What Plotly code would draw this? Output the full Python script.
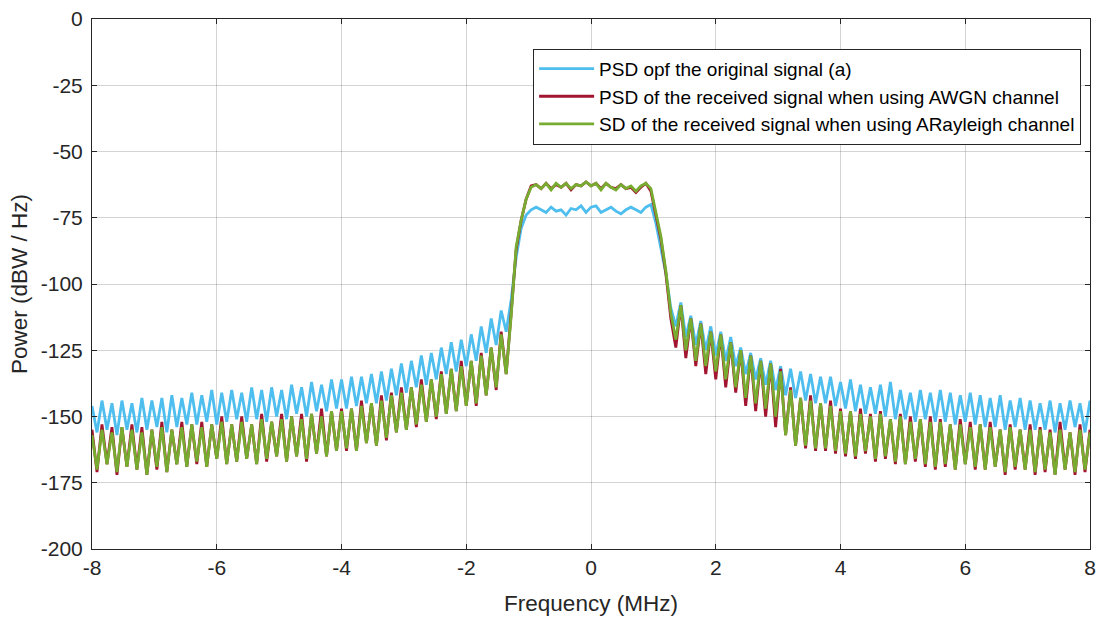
import numpy as np
import plotly.graph_objects as go

# Frequency grid (MHz), 0.08 MHz spacing
freq = np.round(np.arange(-8.0, 8.0001, 0.08), 2)

# PSD of the original signal (dBW/Hz)
psd_original = [
    -146, -156, -144, -155, -145, -157, -144, -155, -145, -156,
    -143, -155, -144, -154, -143, -156, -142, -154, -143, -153,
    -141, -153, -142, -152, -140, -153, -141, -152, -140, -151,
    -141, -152, -139, -151, -140, -152, -139, -150, -140, -151,
    -138, -149, -139, -150, -137, -148, -138, -148, -136, -147,
    -136, -147, -135, -146, -135, -145, -134, -145, -133, -144,
    -132, -142, -130, -141, -129, -139, -127, -138, -126, -136,
    -124, -134, -122, -133, -121, -131, -119, -129, -116, -126,
    -113, -123, -110, -118, -106, -90, -79, -74, -72, -71,
    -72, -73, -71, -72.5, -72, -74, -71.5, -72, -70.5, -73,
    -71, -70.5, -73, -72, -71, -72.5, -73.5, -72, -71, -72,
    -73, -71, -70, -77, -86, -96, -109, -116, -107, -120,
    -112, -123, -114, -125, -116, -127, -118, -129, -120, -131,
    -124, -134, -126, -136, -128, -138, -129, -140, -131, -142,
    -132, -143, -133, -144, -134, -145, -135, -145, -135, -146,
    -137, -147, -136, -148, -138, -149, -139, -149, -138, -150,
    -137, -151, -140, -151, -141, -152, -140, -151, -141, -152,
    -140, -152, -141, -153, -142, -152, -141, -153, -142, -154,
    -143, -154, -142, -155, -144, -154, -143, -155, -144, -155,
    -145, -155, -144, -156, -145, -155, -144, -154, -145, -156,
    -144,
]

# PSD of the received signal, AWGN channel (dBW/Hz)
psd_awgn = [
    -155, -171, -153, -168, -154, -172, -154, -169, -153, -170,
    -154, -172, -155, -170, -152, -171, -155, -168, -152, -169,
    -153, -168, -152, -169, -153, -166, -150, -168, -153, -167,
    -150, -166, -153, -168, -149, -167, -152, -165, -149, -167,
    -150, -165, -149, -167, -149, -164, -147, -165, -148, -163,
    -147, -163, -147, -163, -144, -160, -145, -161, -142, -159,
    -141, -156, -139, -155, -139, -154, -136, -152, -136, -151,
    -133, -149, -132, -148, -129, -146, -129, -146, -126, -142,
    -124, -140, -118, -134, -111, -87, -76, -68, -63, -62.5,
    -64, -62, -64, -62.5, -63.5, -62, -64.5, -62.5, -63, -61.5,
    -63, -62, -64, -62, -63.5, -64, -62.5, -64, -63.5, -65.5,
    -63.5, -62, -65, -74, -83, -96, -113, -124, -108, -128,
    -113, -131, -115, -134, -118, -136, -119, -139, -122, -141,
    -125, -146, -127, -148, -129, -150, -130, -154, -132, -157,
    -139, -161, -143, -162, -142, -163, -145, -163, -144, -164,
    -147, -165, -148, -166, -147, -164, -149, -167, -148, -166,
    -151, -168, -149, -168, -150, -167, -151, -169, -150, -170,
    -151, -169, -153, -170, -151, -168, -152, -170, -153, -170,
    -152, -169, -155, -172, -153, -170, -155, -170, -153, -172,
    -154, -171, -155, -172, -152, -170, -156, -172, -153, -171,
    -155,
]

# PSD of the received signal, Rayleigh channel (dBW/Hz)
psd_rayleigh = [
    -157, -170, -155, -168, -156, -171, -154, -169, -155, -170,
    -156, -172, -155, -169, -154, -171, -155, -168, -154, -169,
    -153, -167, -154, -169, -153, -166, -152, -168, -153, -167,
    -152, -166, -153, -168, -151, -166, -152, -165, -151, -167,
    -150, -165, -151, -166, -149, -164, -150, -165, -148, -163,
    -148, -162, -147, -163, -146, -160, -145, -161, -144, -158,
    -142, -156, -141, -155, -139, -153, -138, -152, -136, -150,
    -134, -149, -132, -148, -131, -146, -129, -145, -127, -142,
    -124, -139, -119, -134, -112, -86, -76, -68, -63.5, -62.5,
    -64, -62, -64.5, -62, -63.5, -62, -64, -62.5, -63, -61.5,
    -63, -62, -64.5, -62, -63.5, -64.5, -62.5, -64, -63, -65,
    -63, -62, -64, -73, -82, -95, -111, -121, -108, -125,
    -113, -129, -115, -131, -118, -133, -119, -136, -122, -139,
    -125, -143, -127, -145, -129, -147, -130, -150, -133, -157,
    -140, -161, -143, -161, -144, -162, -145, -162, -146, -163,
    -148, -164, -148, -165, -149, -163, -150, -166, -149, -165,
    -151, -167, -150, -168, -152, -166, -151, -168, -152, -169,
    -152, -168, -153, -170, -153, -168, -154, -169, -153, -170,
    -154, -169, -155, -171, -154, -169, -155, -170, -155, -171,
    -155, -170, -156, -172, -155, -170, -156, -171, -155, -170,
    -156,
]

series_names = [
    "PSD opf the original signal (a)",
    "PSD of the received signal when using AWGN channel",
    "SD of the received signal when using ARayleigh channel",
]
series_colors = ["#4DBEEE", "#A2142F", "#77AC30"]

x_tickvals = [-8, -6, -4, -2, 0, 2, 4, 6, 8]
x_ticktext = ["-8", "-6", "-4", "-2", "0", "2", "4", "6", "8"]
y_tickvals = [0, -25, -50, -75, -100, -125, -150, -175, -200]
y_ticktext = ["0", "-25", "-50", "-75", "-100", "-125", "-150", "-175", "-200"]

FONT = "Liberation Sans, Arial, Helvetica, sans-serif"
AX = "#262626"

fig = go.Figure()
for name, ys, col in zip(series_names, [psd_original, psd_awgn, psd_rayleigh], series_colors):
    fig.add_trace(go.Scatter(x=freq, y=ys, mode="lines", name=name,
                             line=dict(color=col, width=2.8)))

axis_common = dict(
    showline=True, linecolor=AX, linewidth=1, mirror="ticks",
    ticks="inside", ticklen=5, tickcolor=AX, tickwidth=1,
    showgrid=True, gridcolor="rgba(0,0,0,0.17)", gridwidth=1,
    zeroline=False, layer="above traces", automargin=False,
    ticklabeloverflow="allow",
    tickfont=dict(family=FONT, size=21, color=AX),
)

fig.update_layout(
    width=1100, height=621,
    margin=dict(l=92, r=10, t=19, b=72),
    paper_bgcolor="white", plot_bgcolor="white",
    font=dict(family=FONT, color=AX),
    xaxis=dict(range=[-8, 8], tickvals=x_tickvals, ticktext=x_ticktext,
               title=dict(text="Frequency (MHz)", font=dict(family=FONT, size=22.5, color=AX), standoff=17),
               **axis_common),
    yaxis=dict(range=[-200, 0], tickvals=y_tickvals, ticktext=y_ticktext,
               ticklabelstandoff=4,
               title=dict(text="Power (dBW / Hz)", font=dict(family=FONT, size=22.5, color=AX), standoff=6),
               **axis_common),
    legend=dict(x=0.442, y=0.944, xanchor="left", yanchor="top",
                bgcolor="white", bordercolor=AX, borderwidth=1,
                font=dict(family=FONT, size=19, color="#000000"),
                itemwidth=55, tracegroupgap=0),
    showlegend=True,
)

fig.write_html("out.html")
